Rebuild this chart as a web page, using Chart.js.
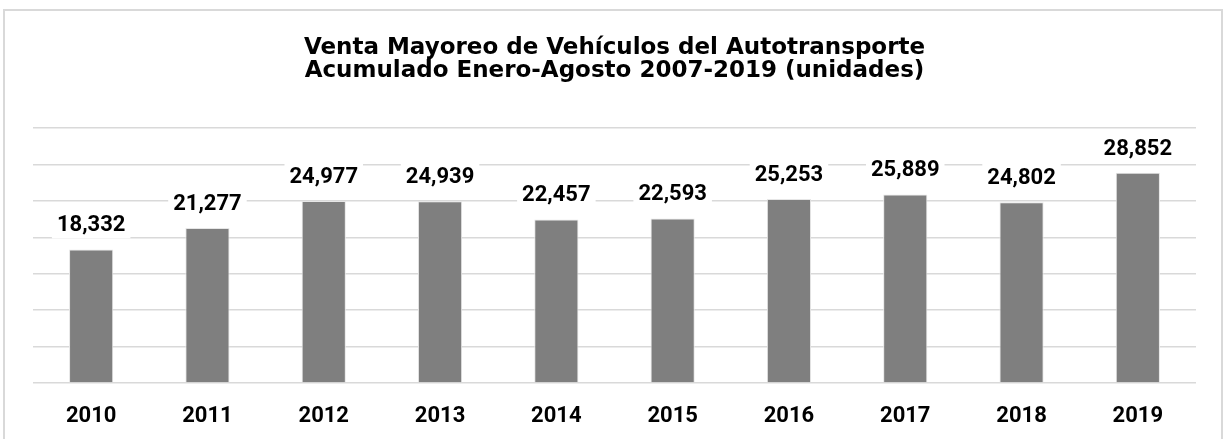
<!DOCTYPE html>
<html>
<head>
<meta charset="utf-8">
<script src="https://cdn.jsdelivr.net/npm/chart.js@4.4.1/dist/chart.umd.min.js"></script>
<style>
    html, body { margin: 0; padding: 0; background: #fff; }
    #wrap { position: relative; width: 1225px; height: 439px; }
    #frame { position: absolute; left: 3px; top: 9px; width: 1216px; height: 440px; border: 2px solid #d9d9d9; border-bottom: none; }
    canvas { position: absolute; left: 0; top: 0; }
</style>
</head>
<body>
<div id="wrap">
    <div id="frame"></div>
    <canvas id="chart" width="1225" height="439"></canvas>
</div>
<script>
// años y ventas acumuladas (unidades)
const years = ['2010', '2011', '2012', '2013', '2014', '2015', '2016', '2017', '2018', '2019'];
const sales = [18332, 21277, 24977, 24939, 22457, 22593, 25253, 25889, 24802, 28852];
const titleLines = ['Venta Mayoreo de Vehículos del Autotransporte', 'Acumulado Enero-Agosto 2007-2019 (unidades)'];

const labelFont = 'bold 22px Roboto, "Liberation Sans", sans-serif';

// etiquetas de valor con fondo blanco sobre cada barra
const valueLabels = {
    id: 'valueLabels',
    afterDatasetsDraw(chart) {
        const ctx = chart.ctx;
        const meta = chart.getDatasetMeta(0);
        ctx.save();
        ctx.font = labelFont;
        ctx.textAlign = 'center';
        ctx.textBaseline = 'alphabetic';
        meta.data.forEach((bar, i) => {
            const txt = sales[i].toLocaleString('en-US');
            const w = ctx.measureText(txt).width;
            const base = bar.y - 18;
            ctx.fillStyle = '#ffffff';
            ctx.fillRect(bar.x - w / 2 - 5, base - 21, w + 10, 28);
            ctx.fillStyle = '#000000';
            ctx.fillText(txt, bar.x, base);
        });
        ctx.restore();
    }
};

new Chart(document.getElementById('chart').getContext('2d'), {
    type: 'bar',
    data: {
        labels: years,
        datasets: [{
            data: sales,
            backgroundColor: '#7f7f7f',
            borderColor: '#e6e6e6',
            borderWidth: 1,
            barPercentage: 0.38,
            categoryPercentage: 1
        }]
    },
    options: {
        responsive: false,
        animation: false,
        layout: { padding: { left: 33, right: 29, top: 0, bottom: 0 } },
        plugins: {
            legend: { display: false },
            tooltip: { enabled: false },
            title: {
                display: true,
                text: titleLines,
                color: '#000000',
                font: { family: '"DejaVu Sans", sans-serif', size: 23, weight: 'bold', lineHeight: 1.0 },
                padding: { top: 37, bottom: 45 }
            }
        },
        scales: {
            x: {
                grid: { display: false, drawTicks: false },
                border: { display: false },
                ticks: { color: '#000000', font: { family: 'Roboto, sans-serif', size: 22, weight: 'bold' }, padding: 20 },
                afterFit(scale) { scale.height = 56; }
            },
            y: {
                min: 0,
                max: 35000,
                ticks: { display: false, stepSize: 5000 },
                grid: { color: '#d9d9d9', lineWidth: 1.5, drawTicks: false },
                border: { display: false }
            }
        }
    },
    plugins: [valueLabels]
});
</script>
</body>
</html>
